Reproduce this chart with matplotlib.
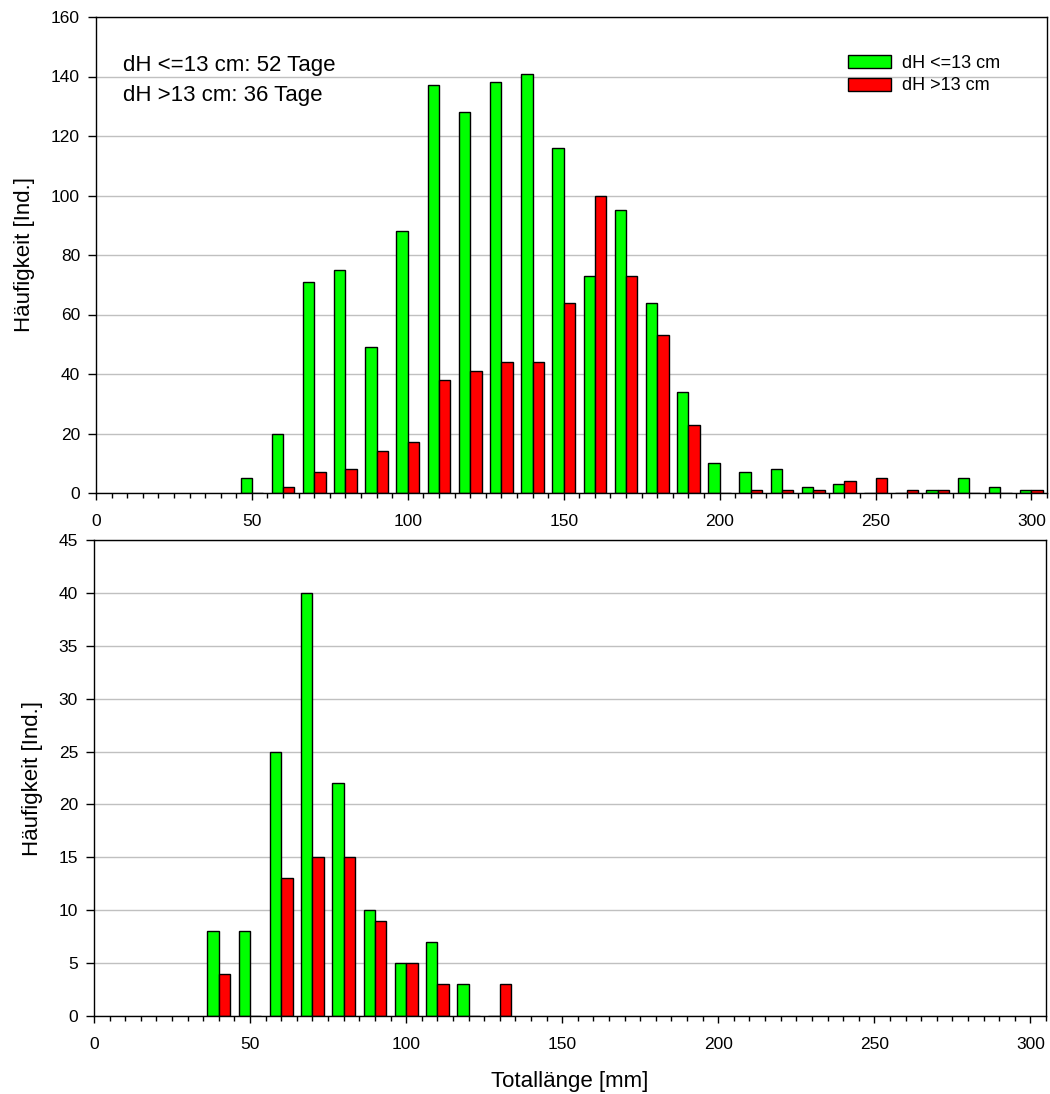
import matplotlib.pyplot as plt
import numpy as np
from matplotlib.ticker import MultipleLocator

plt.rcParams['font.family'] = ['Liberation Sans', 'DejaVu Sans']

# Klassen (Obergrenze der 10-mm-Klasse)
klassen_oben = [50, 60, 70, 80, 90, 100, 110, 120, 130, 140, 150, 160, 170,
                180, 190, 200, 210, 220, 230, 240, 250, 260, 270, 280, 290, 300]
gruen_oben = [5, 20, 71, 75, 49, 88, 137, 128, 138, 141, 116, 73, 95,
              64, 34, 10, 7, 8, 2, 3, 0, 0, 1, 5, 2, 1]
rot_oben = [0, 2, 7, 8, 14, 17, 38, 41, 44, 44, 64, 100, 73,
            53, 23, 0, 1, 1, 1, 4, 5, 1, 1, 0, 0, 1]

klassen_unten = [40, 50, 60, 70, 80, 90, 100, 110, 120, 130]
gruen_unten = [8, 8, 25, 40, 22, 10, 5, 7, 3, 0]
rot_unten = [4, 0, 13, 15, 15, 9, 5, 3, 0, 3]

label_gruen = 'dH <=13 cm'
label_rot = 'dH >13 cm'
text_tage = ['dH <=13 cm: 52 Tage', 'dH >13 cm: 36 Tage']

W = 3.65  # Balkenbreite in mm

fig = plt.figure(figsize=(10.5, 10.94), dpi=100)
ax1 = fig.add_axes([96 / 1050, 1 - 493 / 1094, 951 / 1050, 476 / 1094])
ax2 = fig.add_axes([94 / 1050, 1 - 1016 / 1094, 952 / 1050, 476 / 1094])


def balken(ax, klassen, gruen, rot):
    x = np.array(klassen, dtype=float)
    ax.bar(x - W / 2, gruen, width=W, color='#00ff00', edgecolor='black',
           linewidth=1.0, label=label_gruen, zorder=2)
    ax.bar(x + W / 2, rot, width=W, color='#ff0000', edgecolor='black',
           linewidth=1.0, label=label_rot, zorder=2)
    ax.set_xlim(0, 305)
    ax.xaxis.set_major_locator(MultipleLocator(50))
    ax.xaxis.set_minor_locator(MultipleLocator(5))
    ax.tick_params(axis='x', which='major', direction='out', length=5, width=1,
                   pad=10, labelsize=12.5)
    ax.tick_params(axis='x', which='minor', direction='out', length=3.4, width=1)
    ax.tick_params(axis='y', which='major', direction='out', length=6, width=1,
                   pad=5.5, labelsize=12.5)
    ax.yaxis.grid(True, color='#c0c0c0', linewidth=1.0)
    ax.set_axisbelow(True)
    for s in ax.spines.values():
        s.set_linewidth(1.0)
    ax.set_ylabel('Häufigkeit [Ind.]', fontsize=16)


balken(ax1, klassen_oben, gruen_oben, rot_oben)
ax1.set_ylim(0, 160)
ax1.yaxis.set_major_locator(MultipleLocator(20))
ax1.yaxis.set_label_coords(-0.064, 0.5)
ax1.text(8.7, 141.9, text_tage[0], fontsize=16, va='baseline', ha='left')
ax1.text(8.7, 131.8, text_tage[1], fontsize=16, va='baseline', ha='left')
ax1.legend(loc='upper left', bbox_to_anchor=(848 / 1050, 1 - 55 / 1094),
           bbox_transform=fig.transFigure, frameon=False, fontsize=13,
           handlelength=2.4, handleheight=0.72, handletextpad=0.6,
           labelspacing=0.3, borderpad=0, borderaxespad=0)

balken(ax2, klassen_unten, gruen_unten, rot_unten)
ax2.set_ylim(0, 45)
ax2.yaxis.set_major_locator(MultipleLocator(5))
ax2.yaxis.set_label_coords(-0.054, 0.5)
ax2.set_xlabel('Totallänge [mm]', fontsize=16)
ax2.xaxis.set_label_coords(0.5, -0.1155)

fig.savefig('out.png', dpi=100)
